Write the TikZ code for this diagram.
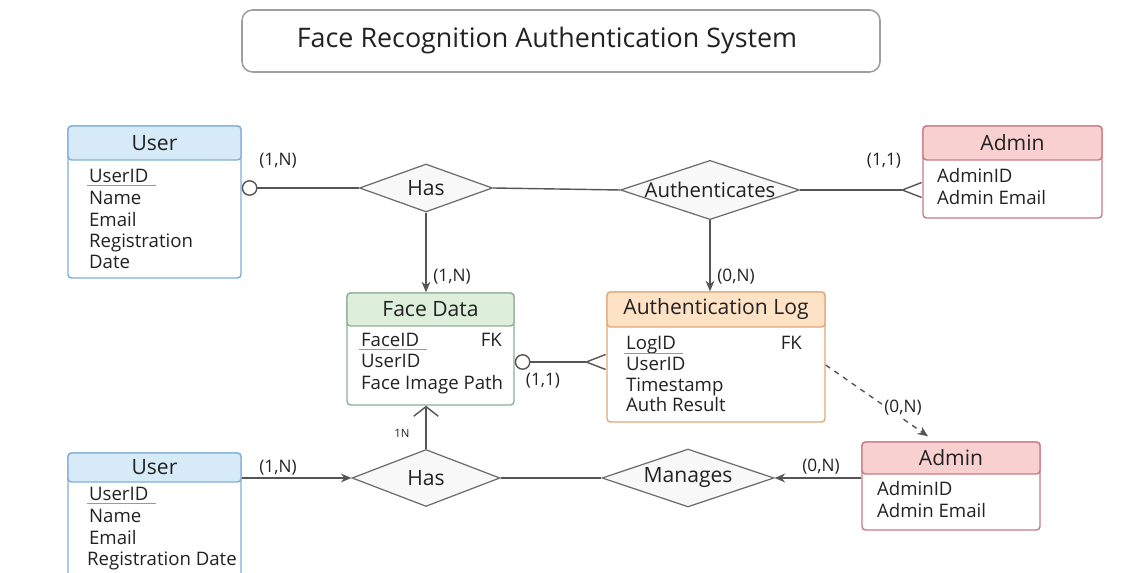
\documentclass[tikz,border=0pt]{standalone}
\usepackage{fontspec}
\setmainfont{Open Sans}
\usepackage{tikz}
\usetikzlibrary{positioning}
\usetikzlibrary{fit}
\usetikzlibrary{shapes.geometric}
\usetikzlibrary{arrows.meta}

\definecolor{linegray}{HTML}{555555}
\definecolor{textdark}{HTML}{222222}
\definecolor{userc}{HTML}{7FAED8}
\definecolor{userfill}{HTML}{D7EAF8}
\definecolor{adminc}{HTML}{C77A83}
\definecolor{adminfill}{HTML}{F9D0D0}
\definecolor{facec}{HTML}{8FAE98}
\definecolor{facefill}{HTML}{DDEEDB}
\definecolor{logc}{HTML}{E0A878}
\definecolor{logfill}{HTML}{FDE2C6}
\definecolor{relfill}{HTML}{F8F8F8}

\tikzset{
    titlebox/.style={draw=gray!75, line width=0.9pt, rounded corners=6pt, inner sep=0pt},
    titletext/.style={font=\fontsize{15.3}{18}\selectfont, text=textdark},
    entity/.style={draw=#1, fill=white, line width=0.8pt, rounded corners=2pt, inner sep=0pt},
    ehead/.style 2 args={draw=#1, fill=#2, line width=0.8pt, rounded corners=2pt, inner sep=0pt},
    htext/.style={font=\fontsize{12}{14}\selectfont, text=textdark},
    attr/.style={anchor=west, inner sep=1pt, text height=7.5pt, text depth=1.5pt,
        font=\fontsize{10.6}{12}\selectfont, text=textdark},
    fkey/.style={attr, anchor=east},
    uline/.style={draw=gray!80, line width=0.6pt},
    rel/.style={diamond, aspect=3, draw=gray!85!black, fill=relfill, line width=0.7pt,
        inner sep=0pt, font=\fontsize{12}{14}\selectfont, text=textdark},
    card/.style={font=\fontsize{9.8}{11}\selectfont, text=textdark, inner sep=1pt},
    conn/.style={draw=linegray, line width=0.8pt},
    crowfoot/.tip={Straight Barb[reversed, length=11pt, width=8.5pt]},
    ocirc/.tip={Circle[open, length=9pt, width=9pt]},
    obarb/.tip={Straight Barb[length=5.5pt, width=14pt]},
    fhead/.tip={Stealth[length=6pt, width=5pt]}
}

\begin{document}
\begin{tikzpicture}[x=0.02cm, y=-0.02cm]
    \useasboundingbox (0,0) rectangle (1126,573);
    \clip (0,0) rectangle (1126,573);

    \node[titlebox, fit={(242,10) (880,72)}] (tbox) {};
    \node[titletext] (title) at (547,41) {Face Recognition Authentication System};

    \node[entity=userc, fit={(68,126) (241,278)}] (user1) {};
    \node[ehead={userc}{userfill}, fit={(68,126) (241,160)}] (user1h) {};
    \node[htext] (user1t) at (user1h) {User};
    \node[attr] (u1id) at (87,177) {UserID};
    \node[attr] (u1name) at (87,199) {Name};
    \node[attr] (u1mail) at (87,221) {Email};
    \node[attr] (u1reg) at (87,242) {Registration};
    \node[attr] (u1date) at (87,263) {Date};
    \draw[uline] ([yshift=-2pt]u1id.base west) -- ([xshift=3pt, yshift=-2pt]u1id.base east);

    \node[entity=adminc, fit={(923,126) (1102,218)}] (admin1) {};
    \node[ehead={adminc}{adminfill}, fit={(923,126) (1102,160)}] (admin1h) {};
    \node[htext] (admin1t) at (admin1h) {Admin};
    \node[attr] (a1id) at (935,177) {AdminID};
    \node[attr] (a1mail) at (935,199) {Admin Email};

    \node[entity=facec, fit={(347,293) (514,405)}] (face) {};
    \node[ehead={facec}{facefill}, fit={(347,293) (514,326)}] (faceh) {};
    \node[htext] (facet) at (faceh) {Face Data};
    \node[attr] (fid) at (359,341) {FaceID};
    \node[fkey] (ffk) at (504,341) {FK};
    \node[attr] (fuid) at (359,362) {UserID};
    \node[attr] (fpath) at (359,384) {Face Image Path};
    \draw[uline] ([yshift=-2pt]fid.base west) -- ([xshift=3pt, yshift=-2pt]fid.base east);

    \node[entity=logc, fit={(607,292) (825,422)}] (log) {};
    \node[ehead={logc}{logfill}, fit={(607,292) (825,327)}] (logh) {};
    \node[htext] (logt) at (logh) {Authentication Log};
    \node[attr] (lid) at (624,344) {LogID};
    \node[fkey] (lfk) at (804,344) {FK};
    \node[attr] (luid) at (624,365) {UserID};
    \node[attr] (ltime) at (624,386) {Timestamp};
    \node[attr] (lres) at (624,406) {Auth Result};
    \draw[uline] ([yshift=-2.5pt]lid.base west) -- ([xshift=3pt, yshift=-2.5pt]lid.base east);

    \node[entity=adminc, fit={(862,442) (1040,530)}] (admin2) {};
    \node[ehead={adminc}{adminfill}, fit={(862,442) (1040,474)}] (admin2h) {};
    \node[htext] (admin2t) at (admin2h) {Admin};
    \node[attr] (a2id) at (875,490) {AdminID};
    \node[attr] (a2mail) at (875,512) {Admin Email};

    \node[entity=userc, fit={(68,453) (241,600)}] (user2) {};
    \node[ehead={userc}{userfill}, fit={(68,453) (241,482)}] (user2h) {};
    \node[htext] (user2t) at (user2h) {User};
    \node[attr] (u2id) at (87,495) {UserID};
    \node[attr] (u2name) at (87,517) {Name};
    \node[attr] (u2mail) at (87,539) {Email};
    \node[attr] (u2reg) at (85,560) {Registration Date};
    \draw[uline] ([yshift=-2pt]u2id.base west) -- ([xshift=3pt, yshift=-2pt]u2id.base east);

    \node[rel, minimum width=2.66cm, minimum height=0.96cm] (has1) at (426,188) {Has};
    \node[rel, minimum width=3.58cm, minimum height=1.14cm, font=\fontsize{11.6}{14}\selectfont] (auth) at (710,190) {Authenticates};
    \node[rel, minimum width=2.96cm, minimum height=1.14cm] (has2) at (426,478) {Has};
    \node[rel, minimum width=3.44cm, minimum height=1.16cm] (manages) at (688,478) {Manages};

    \draw[conn, -{ocirc}] (has1.west) -- (has1.west -| user1.east);
    \draw[conn] (has1.east) -- (auth.west);
    \draw[conn, -{crowfoot}] (auth.east) -- (auth.east -| admin1.west);
    \draw[conn, -{fhead}] (has1.south) -- (has1.south |- face.north);
    \draw[conn, -{fhead}] (auth.south) -- (auth.south |- log.north);
    \draw[conn, {ocirc}-{crowfoot}] (face.east |- fuid) -- (log.west |- fuid);
    \draw[conn, dashed, -{fhead}] (log.east |- luid) -- ([xshift=-0.46cm, yshift=0.1cm]admin2.north);
    \draw[conn, -{fhead}] (manages.east -| admin2.west) -- (manages.east);
    \draw[conn] (has2.east) -- (manages.west);
    \draw[conn, -{obarb}] (has2.north) -- (has2.north |- face.south);
    \draw[conn, -{fhead}] (has2.west -| user2.east) -- (has2.west);

    \node[card] (c1) at (278,161) {(1,N)};
    \node[card] (c2) at (884,161) {(1,1)};
    \node[card] (c3) at (452,277) {(1,N)};
    \node[card] (c4) at (736,277) {(0,N)};
    \node[card] (c5) at (543,381) {(1,1)};
    \node[card, fill=white] (c6) at (903,408) {(0,N)};
    \node[card, font=\fontsize{6.5}{7}\selectfont] (c7) at (402,433) {1N};
    \node[card] (c8) at (821,467) {(0,N)};
    \node[card] (c9) at (278,468) {(1,N)};
\end{tikzpicture}
\end{document}
